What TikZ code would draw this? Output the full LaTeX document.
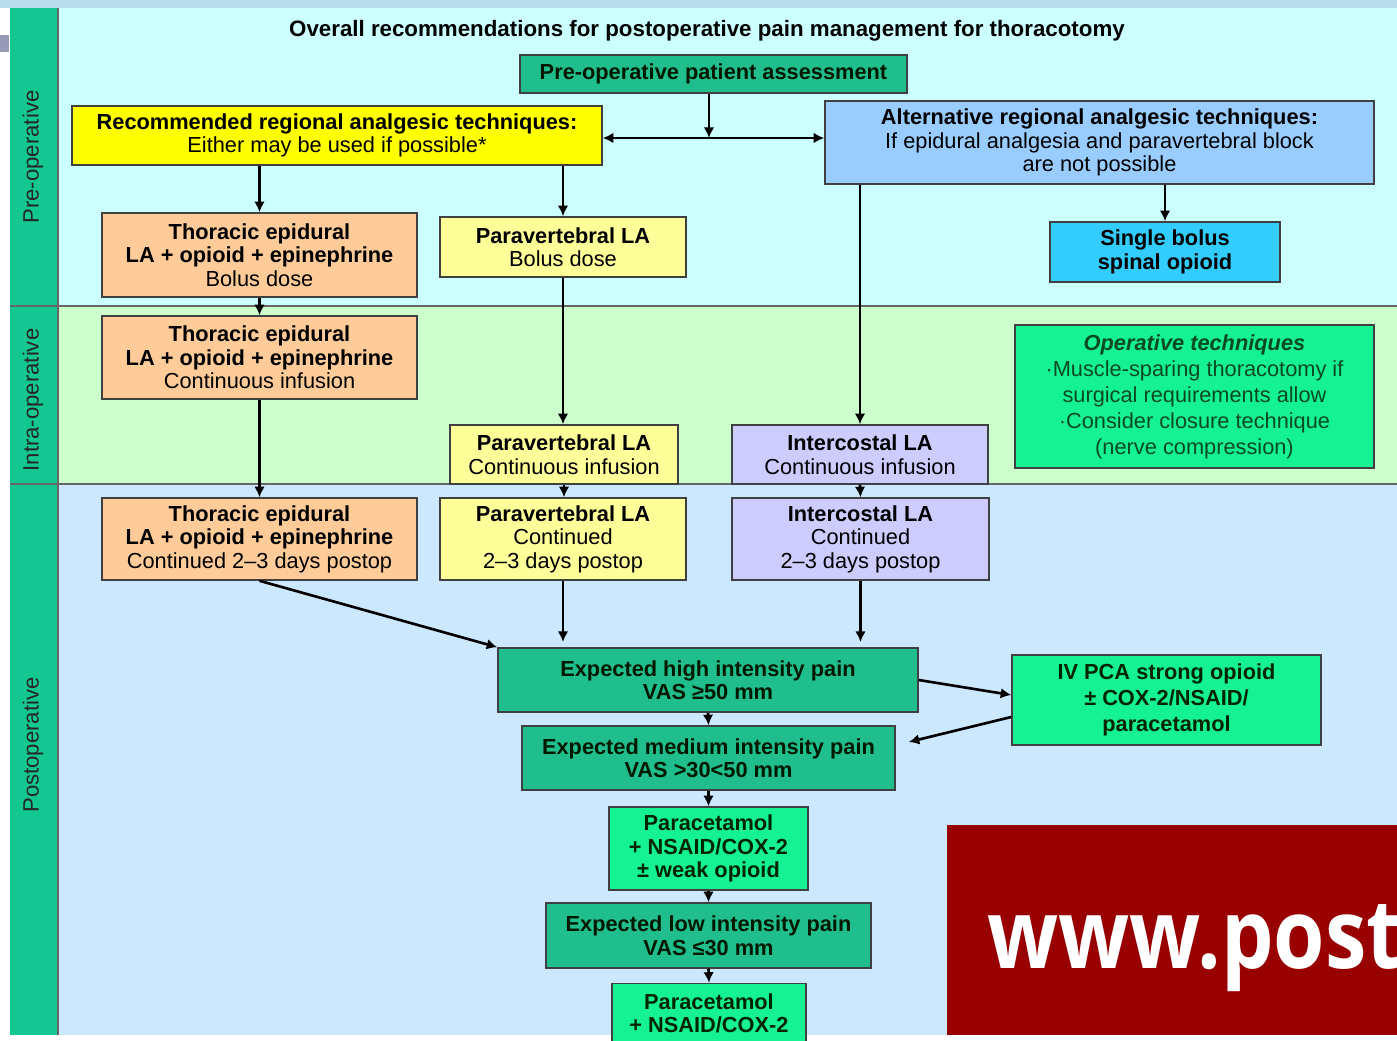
\documentclass[tikz,border=0pt]{standalone}
\usepackage{fontspec}
\setmainfont{Liberation Sans}
\newfontfamily\webfont{Open Sans}
\usetikzlibrary{arrows.meta,calc}

\definecolor{preband}{HTML}{CCFFFF}
\definecolor{intraband}{HTML}{CCFFCC}
\definecolor{postband}{HTML}{CCE8FF}
\definecolor{sidebar}{HTML}{12C790}
\definecolor{tealbox}{HTML}{20BE8C}
\definecolor{greenbox}{HTML}{14F294}
\definecolor{recomfill}{HTML}{FFFF00}
\definecolor{altfill}{HTML}{99CCFF}
\definecolor{spinalfill}{HTML}{33CCFF}
\definecolor{epifill}{HTML}{FFCC99}
\definecolor{pvbfill}{HTML}{FFFF99}
\definecolor{icfill}{HTML}{CCCCFF}
\definecolor{darkgreen}{HTML}{0A4A22}
\definecolor{webred}{HTML}{990000}

\begin{document}
\begin{tikzpicture}[x=0.02cm,y=-0.02cm,>={Latex[length=6pt,width=6pt]},
    font=\fontsize{12.4}{13.4}\selectfont]
    \tikzstyle{box}=[draw=black!75,line width=0.9pt,align=center,inner sep=2pt]
    \tikzstyle{teal box}=[box,fill=tealbox,text=black!90!green]
    \tikzstyle{green box}=[box,fill=greenbox,text=black!85!green]
    \tikzstyle{epi box}=[box,fill=epifill,minimum width=6.3cm]
    \tikzstyle{pvb box}=[box,fill=pvbfill]
    \tikzstyle{ic box}=[box,fill=icfill]
    \tikzstyle{arr}=[->,line width=1.5pt,black]
    \tikzstyle{sep}=[draw=black!60,line width=0.7pt]
    \tikzstyle{phase}=[rotate=90,text=black!85,font=\fontsize{12.6}{13.4}\selectfont]

    \useasboundingbox (0,0) rectangle (1397,1041);
    \clip (0,0) rectangle (1397,1041);

    % Draw the background bands
    \fill[white] (0,0) rectangle (1397,1041);
    \fill[black!25!cyan!30!white] (0,0) rectangle (1397,8);
    \fill[black!70!blue!40] (0,35) rectangle (9,52);
    \fill[preband] (10,8) rectangle (1397,306);
    \fill[intraband] (10,306) rectangle (1397,484);
    \fill[postband] (10,484) rectangle (1397,1035);
    \fill[sidebar] (10,8) rectangle (58,1035);
    \draw[sep] (58,8) -- (58,1035);
    \draw[sep] (10,306) -- (1397,306);
    \draw[sep] (10,484) -- (1397,484);

    % Phase labels
    \foreach \name / \y / \txt in {pre/157/Pre-operative,intra/400/Intra-operative,post/745/Postoperative}
        \node[phase] (P-\name) at (33,\y) {\txt};

    \node (title) at (707,31) {\fontsize{12.7}{14}\selectfont\textbf{Overall recommendations for postoperative pain management for thoracotomy}};

    % Pre-operative boxes
    \node[teal box, minimum width=7.74cm, minimum height=0.76cm] (assess) at (713.5,74)
        {\textbf{Pre-operative patient assessment}};
    \node[box, fill=recomfill, minimum width=10.6cm, minimum height=1.18cm] (recom) at (337,135.5)
        {\textbf{Recommended regional analgesic techniques:}\\Either may be used if possible*};
    \node[box, fill=altfill, minimum width=10.98cm, minimum height=1.66cm] (altern) at (1099.5,142.5)
        {\textbf{Alternative regional analgesic techniques:}\\If epidural analgesia and paravertebral block\\are not possible};
    \node[epi box, minimum height=1.68cm] (epiA) at (259.5,255)
        {\textbf{Thoracic epidural}\\\textbf{LA + opioid + epinephrine}\\Bolus dose};
    \node[pvb box, minimum width=4.92cm, minimum height=1.2cm] (pvbA) at (563,247)
        {\textbf{Paravertebral LA}\\Bolus dose};
    \node[box, fill=spinalfill, minimum width=4.6cm, minimum height=1.2cm] (spinal) at (1165,252)
        {\textbf{Single bolus}\\\textbf{spinal opioid}};

    % Intra-operative boxes
    \node[epi box, minimum height=1.66cm] (epiB) at (259.5,357.5)
        {\textbf{Thoracic epidural}\\\textbf{LA + opioid + epinephrine}\\Continuous infusion};
    \node[pvb box, minimum width=4.56cm, minimum height=1.18cm] (pvbB) at (564,454.5)
        {\textbf{Paravertebral LA}\\Continuous infusion};
    \node[ic box, minimum width=5.12cm, minimum height=1.18cm] (icB) at (860,454.5)
        {\textbf{Intercostal LA}\\Continuous infusion};
    \node[green box, text=darkgreen, minimum width=7.18cm, minimum height=2.86cm,
        font=\fontsize{12.4}{14.8}\selectfont] (optech) at (1194.5,396.5)
        {\textbf{\textit{Operative techniques}}\\·Muscle-sparing thoracotomy if\\surgical requirements allow\\·Consider closure technique\\(nerve compression)};

    % Postoperative boxes
    \node[epi box, minimum height=1.64cm] (epiC) at (259.5,539)
        {\textbf{Thoracic epidural}\\\textbf{LA + opioid + epinephrine}\\Continued 2–3 days postop};
    \node[pvb box, minimum width=4.92cm, minimum height=1.64cm] (pvbC) at (563,539)
        {\textbf{Paravertebral LA}\\Continued\\2–3 days postop};
    \node[ic box, minimum width=5.14cm, minimum height=1.64cm] (icC) at (860.5,539)
        {\textbf{Intercostal LA}\\Continued\\2–3 days postop};
    \node[teal box, minimum width=8.4cm, minimum height=1.28cm] (high) at (708,680)
        {\textbf{Expected high intensity pain}\\\textbf{VAS ≥50 mm}};
    \node[green box, minimum width=6.18cm, minimum height=1.8cm,
        font=\fontsize{12.4}{14.8}\selectfont] (ivpca) at (1166.5,700)
        {\textbf{IV PCA strong opioid}\\\textbf{± COX-2/NSAID/}\\\textbf{paracetamol}};
    \node[teal box, minimum width=7.46cm, minimum height=1.28cm] (medium) at (708.5,758)
        {\textbf{Expected medium intensity pain}\\\textbf{VAS >30<50 mm}};
    \node[green box, minimum width=3.98cm, minimum height=1.66cm] (paraA) at (708.5,848.5)
        {\textbf{Paracetamol}\\\textbf{+ NSAID/COX-2}\\\textbf{± weak opioid}};
    \node[teal box, minimum width=6.5cm, minimum height=1.3cm] (low) at (708.5,935.5)
        {\textbf{Expected low intensity pain}\\\textbf{VAS ≤30 mm}};
    \node[green box, minimum width=3.88cm, minimum height=1.2cm] (paraB) at (709,1013.5)
        {\textbf{Paracetamol}\\\textbf{+ NSAID/COX-2}};

    % Connect the pre-operative boxes
    \coordinate (junc) at (709,138);
    \draw[arr] (junc |- assess.south) -- (junc);
    \draw[arr] (junc) -- (junc -| recom.east);
    \draw[arr] (junc) -- (junc -| altern.west);
    \draw[arr] (epiA.north |- recom.south) -- (epiA.north);
    \draw[arr] (pvbA.north |- recom.south) -- (pvbA.north);
    \draw[arr] (spinal.north |- altern.south) -- (spinal.north);

    % Connect down through the phases
    \foreach \source / \dest in {epiA/epiB,epiB/epiC}
        \draw[arr] (\source.south) -- (\dest.north);
    \draw[arr] (pvbA.south) -- (pvbA.south |- pvbB.north);
    \draw[arr] (pvbB.south) -- (pvbB.south |- pvbC.north);
    \draw[arr] (icB.north |- altern.south) -- (icB.north);
    \draw[arr] (icB.south) -- (icC.north);

    % Connect into the pain levels
    \draw[arr] (epiC.south) -- (high.north west);
    \draw[arr, shorten >=3pt] (pvbC.south) -- (pvbC.south |- high.north);
    \draw[arr, shorten >=3pt] (icC.south) -- (icC.south |- high.north);
    \draw[arr] (high.east) -- ([yshift=0.1cm]ivpca.west);
    \draw[arr] ([yshift=-0.34cm]ivpca.west) -- ([xshift=0.26cm,yshift=0.32cm]medium.east);
    \foreach \source / \dest in {high/medium,medium/paraA,paraA/low,low/paraB}
        \draw[arr] (\source.south) -- (\dest.north);

    % Red banner
    \fill[webred] (947,825) rectangle (1397,1035);
    \node[text=white, anchor=base west, inner sep=0pt] (web) at (987,968)
        {\scalebox{0.86}[1]{\webfont\bfseries\fontsize{55}{55}\selectfont www.post}};
\end{tikzpicture}
\end{document}
